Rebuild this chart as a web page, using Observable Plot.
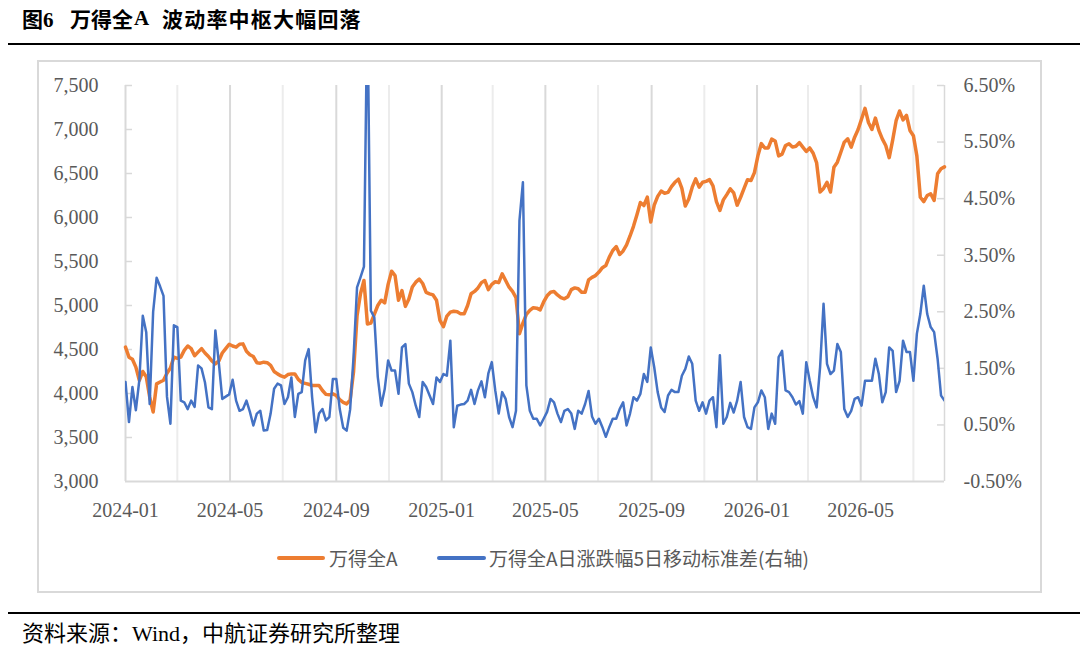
<!DOCTYPE html>
<html>
<head>
<meta charset="utf-8">
<script src="https://cdn.jsdelivr.net/npm/d3@7"></script>
<script src="https://cdn.jsdelivr.net/npm/@observablehq/plot@0.6"></script>
<style>
  html, body { margin: 0; padding: 0; background: #fff; }
  #page { position: relative; width: 1080px; height: 654px; overflow: hidden; font-family: "Noto Sans CJK SC", sans-serif; }
  .t { position: absolute; top: 7px; font-size: 21px; line-height: 22px; font-weight: 700; color: #000; white-space: nowrap; }
  .hr { position: absolute; left: 8px; right: 0; background: #000; }
  #box { position: absolute; left: 37px; top: 60px; width: 1001px; height: 529px; border: 2px solid #d9d9d9; }
  #chart { position: absolute; left: 0; top: 0; }
  .sw { position: absolute; height: 4px; border-radius: 2px; }
  .lg { position: absolute; top: 547px; font-size: 19px; line-height: 22px; color: #595959; white-space: nowrap; }
  #source { position: absolute; left: 22px; top: 622px; font-size: 22px; line-height: 24px; color: #000; white-space: nowrap; font-family: "Liberation Serif", "Noto Sans CJK SC", serif; }
</style>
</head>
<body>
<div id="page">
  <div class="t" style="left:22px">图<span style="font-family:'Liberation Serif',serif">6</span></div>
  <div class="t" style="left:70px">万得全</div>
  <div class="t" style="left:134px;font-family:'Liberation Serif',serif">A</div>
  <div class="t" style="left:162px;letter-spacing:1.2px">波动率中枢大幅回落</div>
  <div class="hr" style="top:43px;height:2px"></div>
  <div id="box"></div>
  <div id="chart"></div>
  <div class="sw" style="left:277px;top:556px;width:48px;background:#ED7D31"></div>
  <div class="lg" style="left:329px">万得全A</div>
  <div class="sw" style="left:437px;top:556px;width:49px;background:#4472C4"></div>
  <div class="lg" style="left:489px">万得全A日涨跌幅5日移动标准差(右轴)</div>
  <div class="hr" style="top:612px;height:1.5px"></div>
  <div id="source">资料来源：Wind，中航证券研究所整理</div>
</div>
<script>
// ---- data ----
const dates = [
"2024-01-01","2024-01-05","2024-01-09","2024-01-13","2024-01-17","2024-01-21","2024-01-25","2024-01-29",
"2024-02-02","2024-02-06","2024-02-10","2024-02-14","2024-02-18","2024-02-22","2024-02-26",
"2024-03-01","2024-03-05","2024-03-09","2024-03-13","2024-03-17","2024-03-21","2024-03-25","2024-03-29",
"2024-04-02","2024-04-06","2024-04-10","2024-04-14","2024-04-18","2024-04-22","2024-04-26","2024-04-30",
"2024-05-04","2024-05-08","2024-05-12","2024-05-16","2024-05-20","2024-05-24","2024-05-28",
"2024-06-01","2024-06-05","2024-06-09","2024-06-13","2024-06-17","2024-06-21","2024-06-25","2024-06-29",
"2024-07-03","2024-07-07","2024-07-11","2024-07-15","2024-07-19","2024-07-23","2024-07-27","2024-07-31",
"2024-08-04","2024-08-08","2024-08-12","2024-08-16","2024-08-20","2024-08-24","2024-08-28",
"2024-09-01","2024-09-05","2024-09-09","2024-09-13","2024-09-17","2024-09-21","2024-09-25","2024-09-29",
"2024-10-03","2024-10-07","2024-10-11","2024-10-15","2024-10-19","2024-10-23","2024-10-27","2024-10-31",
"2024-11-04","2024-11-08","2024-11-12","2024-11-16","2024-11-20","2024-11-24","2024-11-28",
"2024-12-02","2024-12-06","2024-12-10","2024-12-14","2024-12-18","2024-12-22","2024-12-26","2024-12-30",
"2025-01-03","2025-01-07","2025-01-11","2025-01-15","2025-01-19","2025-01-23","2025-01-27","2025-01-31",
"2025-02-04","2025-02-08","2025-02-12","2025-02-16","2025-02-20","2025-02-24","2025-02-28",
"2025-03-04","2025-03-08","2025-03-12","2025-03-16","2025-03-20","2025-03-24","2025-03-28",
"2025-04-01","2025-04-05","2025-04-09","2025-04-13","2025-04-17","2025-04-21","2025-04-25","2025-04-29",
"2025-05-03","2025-05-07","2025-05-11","2025-05-15","2025-05-19","2025-05-23","2025-05-27","2025-05-31",
"2025-06-04","2025-06-08","2025-06-12","2025-06-16","2025-06-20","2025-06-24","2025-06-28",
"2025-07-02","2025-07-06","2025-07-10","2025-07-14","2025-07-18","2025-07-22","2025-07-26","2025-07-30",
"2025-08-03","2025-08-07","2025-08-11","2025-08-15","2025-08-19","2025-08-23","2025-08-27","2025-08-31",
"2025-09-04","2025-09-08","2025-09-12","2025-09-16","2025-09-20","2025-09-24","2025-09-28",
"2025-10-02","2025-10-06","2025-10-10","2025-10-14","2025-10-18","2025-10-22","2025-10-26","2025-10-30",
"2025-11-03","2025-11-07","2025-11-11","2025-11-15","2025-11-19","2025-11-23","2025-11-27",
"2025-12-01","2025-12-05","2025-12-09","2025-12-13","2025-12-17","2025-12-21","2025-12-25","2025-12-29",
"2026-01-02","2026-01-06","2026-01-10","2026-01-14","2026-01-18","2026-01-22","2026-01-26","2026-01-30",
"2026-02-03","2026-02-07","2026-02-11","2026-02-15","2026-02-19","2026-02-23","2026-02-27",
"2026-03-03","2026-03-07","2026-03-11","2026-03-15","2026-03-19","2026-03-23","2026-03-27","2026-03-31",
"2026-04-04","2026-04-08","2026-04-12","2026-04-16","2026-04-20","2026-04-24","2026-04-28",
"2026-05-02","2026-05-06","2026-05-10","2026-05-14","2026-05-18","2026-05-22","2026-05-26","2026-05-30",
"2026-06-03","2026-06-07","2026-06-11","2026-06-15","2026-06-19","2026-06-23","2026-06-27",
"2026-07-01","2026-07-05","2026-07-09","2026-07-13","2026-07-17","2026-07-21","2026-07-25","2026-07-29",
"2026-08-02","2026-08-06"
];

// 万得全A (left axis)
const windA = [
4527,4413,4390,4300,4150,4250,4190,3960,3790,4110,
4130,4150,4230,4290,4413,4400,4413,4490,4540,4510,
4430,4470,4510,4460,4420,4370,4337,4370,4460,4510,
4560,4540,4527,4560,4564,4480,4440,4420,4350,4345,
4356,4350,4320,4250,4223,4200,4186,4215,4223,4223,
4160,4125,4115,4105,4091,4091,4091,4034,3990,3985,
3996,3977,3930,3900,3882,3925,4250,4880,5133,5284,
4790,4800,4900,5000,5060,5030,5240,5390,5340,5060,
5170,4990,5075,5210,5265,5300,5250,5150,5133,5120,
5060,4830,4760,4880,4924,4935,4930,4905,4905,5000,
5133,5160,5200,5260,5284,5180,5240,5270,5260,5360,
5284,5208,5160,5090,4680,4800,4900,4945,4975,4970,
4950,5040,5110,5150,5160,5120,5090,5076,5100,5180,
5200,5190,5150,5150,5290,5320,5340,5380,5430,5455,
5550,5625,5670,5580,5620,5690,5790,5900,6030,6170,
6136,6231,5950,6140,6240,6300,6275,6285,6350,6400,
6435,6330,6130,6210,6345,6439,6345,6400,6410,6430,
6360,6180,6080,6200,6260,6326,6280,6140,6230,6330,
6430,6420,6510,6700,6840,6790,6790,6890,6870,6700,
6720,6818,6837,6800,6810,6850,6800,6750,6790,6730,
6620,6290,6330,6400,6290,6572,6629,6742,6856,6894,
6799,6913,7000,7120,7240,7080,7000,7130,6990,6894,
6818,6680,6880,7100,7210,7110,7160,6989,6930,6700,
6230,6180,6250,6270,6193,6496,6553,6575
];

// 万得全A日涨跌幅5日移动标准差, % (right axis)
const volStd = [
1.26,0.55,1.17,0.76,1.29,2.43,2.14,0.87,2.50,3.10,
2.95,2.78,1.00,0.52,2.26,2.23,0.93,0.90,0.78,0.93,
0.82,1.55,1.50,1.25,0.81,0.78,2.17,1.60,0.96,1.00,
1.04,1.30,0.93,0.75,0.78,0.93,0.73,0.49,0.70,0.75,
0.40,0.41,0.70,1.14,1.23,1.20,0.87,0.99,1.34,0.64,
1.05,1.08,1.64,1.84,0.99,0.37,0.70,0.78,0.58,0.64,
1.31,1.31,0.78,0.45,0.40,0.77,1.71,2.93,3.11,3.30,
8.00,2.52,2.40,1.35,0.84,1.13,1.64,1.46,1.46,1.05,
1.87,1.93,1.23,1.08,0.84,0.64,1.26,1.17,1.02,0.87,
1.34,1.26,1.40,1.37,1.99,0.46,0.84,0.86,0.87,0.93,
1.12,0.87,1.11,1.27,0.99,1.41,1.61,1.11,0.70,1.08,
0.96,0.64,0.46,0.75,4.11,4.79,1.20,0.75,0.61,0.61,
0.49,0.61,0.73,0.96,0.90,0.70,0.55,0.75,0.78,0.70,
0.43,0.75,0.70,0.87,1.10,0.65,0.52,0.61,0.46,0.29,
0.46,0.61,0.61,0.78,0.90,0.49,0.70,0.99,0.93,1.05,
1.40,1.26,1.87,1.52,1.08,0.81,0.73,1.02,1.12,1.08,
1.08,1.37,1.49,1.71,1.58,0.93,0.75,0.90,0.70,0.93,
0.99,0.46,1.73,0.52,0.64,0.89,0.72,0.93,1.26,0.64,
0.46,0.43,0.81,0.90,1.11,0.99,0.43,0.70,0.52,1.70,
1.81,1.11,1.08,0.99,0.86,0.92,0.70,1.61,1.28,0.99,
0.81,1.52,2.64,1.58,1.40,1.46,1.93,1.79,0.78,0.64,
0.75,0.96,0.99,0.84,1.28,1.28,1.28,1.67,1.40,0.90,
1.08,1.87,1.81,1.08,1.28,1.99,1.79,1.79,1.28,2.11,
2.46,2.96,2.46,2.23,2.14,1.67,1.02,0.93
];

const leftTicks = [3000,3500,4000,4500,5000,5500,6000,6500,7000,7500];
const rightTicks = [-0.5,0.5,1.5,2.5,3.5,4.5,5.5,6.5];
const xTickLabels = ["2024-01","2024-05","2024-09","2025-01","2025-05","2025-09","2026-01","2026-05"];
const minorGridLabels = ["2024-03","2024-07","2024-11","2025-03","2025-07","2025-11","2026-03","2026-07"];

// ---- build ----
const parseDay = d3.utcParse("%Y-%m-%d");
const parseMonth = d3.utcParse("%Y-%m");
const days = dates.map(parseDay);
const rowsA = days.map((d, i) => ({date: d, value: windA[i]}));
const rowsV = days.map((d, i) => ({date: d, value: volStd[i]}));
const xTicks = xTickLabels.map(parseMonth);
const minorGrid = minorGridLabels.map(parseMonth);

// secondary axis mapped onto the primary scale domain
const L0 = 3000, L1 = 7500, R0 = -0.5, R1 = 6.5;
const toLeft = r => L0 + (r - R0) * (L1 - L0) / (R1 - R0);
const fromLeft = v => R0 + (v - L0) * (R1 - R0) / (L1 - L0);

const W = 1080, H = 540, ML = 125, MR = 136, MT = 85, MB = 59;
const frameW = W - ML - MR;

const chart = Plot.plot({
  width: W, height: H,
  marginLeft: ML, marginRight: MR, marginTop: MT, marginBottom: MB,
  x: {type: "utc", domain: [days[0], days[days.length - 1]]},
  y: {domain: [L0, L1]},
  style: {background: "transparent", fontFamily: "'Liberation Serif', serif", fontSize: "20px", color: "#595959", overflow: "visible"},
  marks: [
    Plot.ruleX(minorGrid, {x: d => d, stroke: "#ececec", strokeWidth: 2}),
    Plot.ruleX(xTicks, {x: d => d, stroke: "#d9d9d9", strokeWidth: 2}),
    Plot.ruleX([days[days.length - 1]], {x: d => d, stroke: "#d9d9d9", strokeWidth: 1.5}),
    Plot.ruleY([L0], {y: d => d, stroke: "#d9d9d9", strokeWidth: 2}),
    Plot.tickY(leftTicks.slice(1), {y: d => d, stroke: "#d9d9d9", strokeWidth: 1.5, insetRight: frameW - 7}),
    Plot.tickY(rightTicks.slice(1).map(toLeft), {y: d => d, stroke: "#d9d9d9", strokeWidth: 1.5, insetLeft: frameW - 7}),
    Plot.axisY({ticks: leftTicks, tickFormat: d3.format(","), tickSize: 0, tickPadding: 27, label: null}),
    Plot.axisY({anchor: "right", ticks: rightTicks.map(toLeft), tickFormat: v => fromLeft(v).toFixed(2) + "%", tickSize: 0, tickPadding: 19, label: null}),
    Plot.axisX({ticks: xTicks, tickFormat: d3.utcFormat("%Y-%m"), tickSize: 0, tickPadding: 21, label: null}),
    Plot.lineY(rowsA, {x: "date", y: "value", stroke: "#ED7D31", strokeWidth: 3.5, strokeLinejoin: "round"}),
    Plot.lineY(rowsV, {x: "date", y: d => toLeft(d.value), stroke: "#4472C4", strokeWidth: 2.5, strokeLinejoin: "round", clip: true})
  ]
});
document.getElementById("chart").appendChild(chart);
</script>
</body>
</html>
